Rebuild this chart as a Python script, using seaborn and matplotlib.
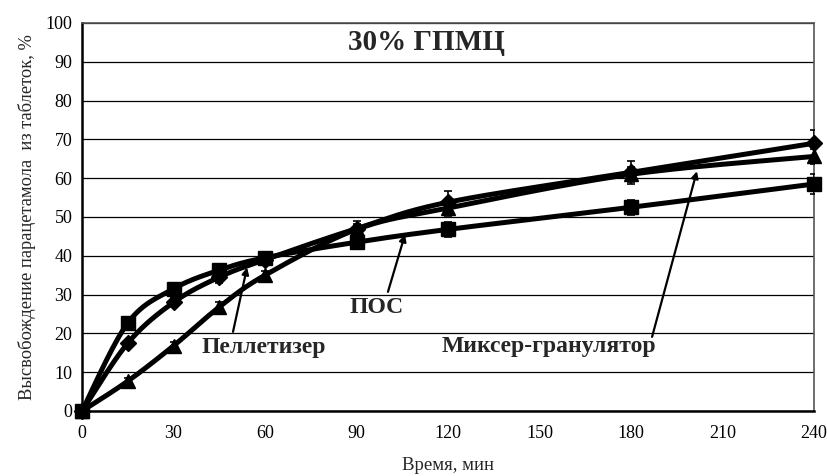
import numpy as np
import pandas as pd
import matplotlib
matplotlib.use("Agg")
import matplotlib.pyplot as plt
import seaborn as sns

# ---- data ----
time_min = [0, 15, 30, 45, 60, 90, 120, 180, 240]
pellet = [0, 17.5, 28.0, 34.5, 39.0, 47.0, 53.8, 61.5, 69.0]      # diamonds
pos = [0, 22.7, 31.5, 36.3, 39.5, 43.5, 46.8, 52.5, 58.5]         # squares
mixer = [0, 7.7, 16.8, 26.8, 35.0, 46.8, 52.3, 61.0, 65.6]        # triangles
pellet_err = [0, 0.8, 1.0, 1.5, 1.0, 2.0, 3.0, 3.0, 3.5]
pos_err = [0, 0.8, 1.0, 1.2, 1.0, 1.5, 2.0, 2.0, 2.5]
mixer_err = [0, 0.8, 1.0, 1.2, 1.0, 1.5, 2.0, 2.0, 2.0]
series_names = ["Пеллетизер", "ПОС", "Миксер-гранулятор"]
title_text = "30% ГПМЦ"
x_ticks = [0, 30, 60, 90, 120, 150, 180, 210, 240]
y_ticks = [0, 10, 20, 30, 40, 50, 60, 70, 80, 90, 100]

sns.set_theme(style="white")
plt.rcParams['font.family'] = ['Liberation Serif', 'DejaVu Serif']


def smooth(xs, ys, n=30):
    """Excel-like smoothed line (Catmull-Rom as cubic Bezier)."""
    P = np.column_stack([xs, ys]).astype(float)
    out = []
    for i in range(len(P) - 1):
        p0 = P[i - 1] if i > 0 else P[i]
        p1 = P[i]
        p2 = P[i + 1]
        p3 = P[i + 2] if i + 2 < len(P) else P[i + 1]
        b1 = p1 + (p2 - p0) / 6.0
        b2 = p2 - (p3 - p1) / 6.0
        t = np.linspace(0, 1, n)[:, None]
        seg = ((1 - t) ** 3) * p1 + 3 * ((1 - t) ** 2) * t * b1 + 3 * (1 - t) * t ** 2 * b2 + t ** 3 * p2
        out.append(seg if i == 0 else seg[1:])
    return np.vstack(out)


fig = plt.figure(figsize=(8.27, 4.76), dpi=100)
ax = fig.add_axes([0.0992, 0.1366, 0.8851, 0.8151])

markers = ["D", "s", "^"]
msizes = [8.5, 10, 10]
for name, vals, err, mk, ms in zip(series_names, [pellet, pos, mixer],
                                   [pellet_err, pos_err, mixer_err], markers, msizes):
    curve = smooth(time_min, vals)
    df = pd.DataFrame({"x": curve[:, 0], "y": curve[:, 1]})
    sns.lineplot(data=df, x="x", y="y", ax=ax, color="black", lw=3.6,
                 sort=False, estimator=None, zorder=3)
    ax.errorbar(time_min, vals, yerr=err, fmt="none", ecolor="black",
                elinewidth=1.2, capsize=3, capthick=1.2, zorder=4)
    ax.plot(time_min, vals, linestyle="none", marker=mk, markersize=ms,
            color="black", zorder=5, clip_on=False)

ax.set_xlim(0, 240)
ax.set_ylim(0, 100)
ax.set_xticks(x_ticks)
ax.set_yticks(y_ticks)
ax.yaxis.grid(True, color="black", lw=0.9)
ax.xaxis.grid(False)
ax.set_axisbelow(True)
for s in ["left", "bottom"]:
    ax.spines[s].set_color("black")
    ax.spines[s].set_linewidth(1.8)
for s in ["top", "right"]:
    ax.spines[s].set_color("#555555")
    ax.spines[s].set_linewidth(1.2)
ax.tick_params(axis="both", direction="out", length=4, width=1.2,
               colors="black", labelsize=13, pad=3)
ax.tick_params(axis="x", pad=6)

ax.set_xlabel("Время, мин", fontsize=13.5, labelpad=11)
ax.set_ylabel("Высвобождение парацетамола  из таблеток, %", fontsize=13.3, labelpad=7)

ax.text(112.8, 95, title_text, fontsize=21, fontweight="bold",
        ha="center", va="center")

arrow = dict(arrowstyle="-|>", color="black", lw=1.6, mutation_scale=10,
             shrinkA=0, shrinkB=0)
ax.annotate("", xy=(105.9, 45.5), xytext=(100.3, 30.7), arrowprops=arrow)
ax.text(96.4, 26.6, series_names[1], fontsize=17, fontweight="bold",
        ha="center", va="center")
ax.annotate("", xy=(54.1, 37.0), xytext=(49.5, 20.4), arrowprops=arrow)
ax.text(59.7, 16.3, series_names[0], fontsize=17, fontweight="bold",
        ha="center", va="center")
ax.annotate("", xy=(201.6, 61.8), xytext=(186.9, 19.1), arrowprops=arrow)
ax.text(153.1, 16.5, series_names[2], fontsize=17, fontweight="bold",
        ha="center", va="center")

fig.savefig("out.png", dpi=100)
